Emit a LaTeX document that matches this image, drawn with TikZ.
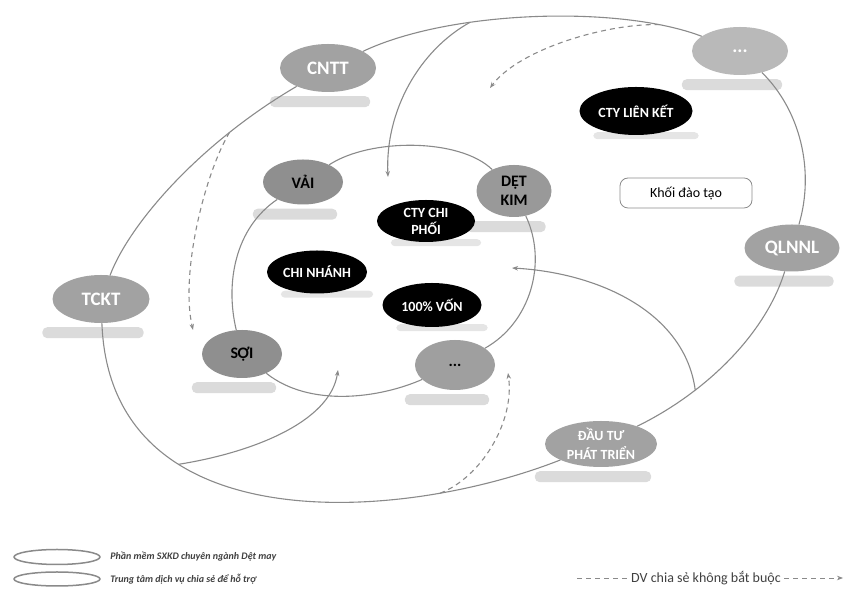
\documentclass[tikz,border=0pt]{standalone}
\usepackage{fontspec}
\setmainfont{Carlito}
\usetikzlibrary{shapes.geometric,positioning,arrows.meta,backgrounds,calc}
\definecolor{linegray}{HTML}{8A8A8A}
\definecolor{outergray}{HTML}{A2A2A2}
\definecolor{innergray}{HTML}{8F8F8F}
\begin{document}
\begin{tikzpicture}[x=1pt,y=1pt,>={Stealth[length=6pt,width=4.5pt]},
                    outer node/.style={ellipse,fill=outergray,text=white,minimum width=96pt,minimum height=48pt,inner sep=0pt,font=\bfseries\fontsize{19}{21}\selectfont},
                    inner node/.style={ellipse,fill=innergray,text=black,minimum width=80pt,minimum height=48pt,inner sep=0pt,align=center,font=\bfseries\fontsize{16}{19}\selectfont},
                    unit node/.style={ellipse,fill=black,text=white,minimum width=100pt,minimum height=43pt,inner sep=0pt,align=center,font=\bfseries\fontsize{14}{17}\selectfont},
                    link/.style={draw=linegray,line width=1.1pt},
                    opt link/.style={link,dashed,dash pattern=on 5pt off 4pt}]

          \useasboundingbox (0,0) rectangle (859,593);

          \node[outer node] (cntt) at (328,525) {CNTT};
          \node[outer node,fill=gray!55] (dotsA) at (740,542) {...};
          \node[outer node,minimum width=95pt,minimum height=47pt] (qlnnl) at (792,345) {QLNNL};
          \node[outer node,minimum width=97pt] (tckt) at (101,294) {TCKT};
          \node[outer node,minimum width=112pt,minimum height=46pt,align=center,font=\bfseries\fontsize{14}{19}\selectfont] (dautu) at (601,149) {ĐẦU TƯ\\PHÁT TRIỂN};

          \node[unit node,minimum width=113pt,minimum height=48pt] (lienket) at (636,482) {CTY LIÊN KẾT};
          \node[draw=linegray,line width=0.8pt,rounded corners=8pt,minimum width=132pt,minimum height=30pt,font=\fontsize{14}{15}\selectfont] (daotao) at (686,400) {Khối đào tạo};

          \node[inner node,minimum height=45pt] (vai) at (303,411) {VẢI};
          \node[inner node,minimum width=75pt,minimum height=52pt,fill=gray!80] (detkim) at (514,402) {DỆT\\KIM};
          \node[unit node,minimum width=98pt,minimum height=42pt] (chiphoi) at (426,372) {CTY CHI\\PHỐI};
          \node[unit node] (chinhanh) at (317,321) {CHI NHÁNH};
          \node[unit node,minimum width=99pt,minimum height=44pt] (von) at (432,288) {100\% VỐN};
          \node[inner node] (soi) at (242,239) {SỢI};
          \node[inner node,minimum height=50pt,fill=gray!75] (dotsB) at (455,228) {...};

          \begin{scope}[on background layer]
          \foreach \s in {cntt,dotsA,qlnnl,tckt,dautu,vai,detkim,soi,dotsB}
            \fill[gray!28,rounded corners=5pt] let \p1=(\s.west), \p2=(\s.east), \p3=(\s.south) in (\x1-10pt,\y3-4pt) rectangle (\x2-6pt,\y3-15pt);
          \foreach \s in {lienket,chiphoi,chinhanh,von}
            \fill[gray!20,rounded corners=4pt] let \p1=(\s.west), \p2=(\s.east), \p3=(\s.south) in (\x1+14pt,\y3+3pt) rectangle (\x2+6pt,\y3-4pt);
          \end{scope}

          \draw[link] (cntt) .. controls (450,583) and (620,588) .. (dotsA)
                coordinate[pos=0.33] (top1) coordinate[pos=0.85] (top2);
          \draw[link] (dotsA) .. controls (800,483) and (815,423) .. (qlnnl);
          \draw[link] (qlnnl) .. controls (765,258) and (705,200) .. (dautu) coordinate[pos=0.7] (mid6);
          \draw[link] (dautu) .. controls (400,70) and (110,50) .. (tckt)
                coordinate[pos=0.22] (bot5) coordinate[pos=0.69] (bot4);
          \draw[link] (tckt) .. controls (130,370) and (200,450) .. (cntt) coordinate[pos=0.75] (left3);

          \draw[link] (vai) .. controls (370,455) and (460,455) .. (detkim);
          \draw[link] (detkim) .. controls (548,330) and (530,270) .. (dotsB);
          \draw[link] (dotsB) .. controls (380,195) and (310,185) .. (soi);
          \draw[link] (soi) .. controls (225,310) and (235,365) .. (vai);

          \coordinate (end1) at (388,416);
          \coordinate (end2) at (490,505);
          \coordinate (end3) at (193,263);
          \coordinate (end4) at (338,223);
          \coordinate (end5) at (508,220);
          \coordinate (end6) at (512,325);

          \draw[link,->] (top1) .. controls (420,543) and (385,483) .. (end1);
          \draw[opt link,->] (top2) .. controls (610,570) and (520,545) .. (end2);
          \draw[opt link,->] (left3) .. controls (205,420) and (180,320) .. (end3);
          \draw[link,->] (bot4) .. controls (250,140) and (330,170) .. (end4);
          \draw[opt link,->] (bot5) .. controls (480,115) and (515,170) .. (end5);
          \draw[link,->] (mid6) .. controls (685,280) and (600,320) .. (end6);

          \node[ellipse,draw=linegray,line width=1.5pt,minimum width=86pt,minimum height=15pt] (leg1) at (57,36) {};
          \node[ellipse,draw=linegray,line width=1.5pt,minimum width=86pt,minimum height=14pt] (leg2) at (57,14) {};
          \node[right=6pt of leg1,text=darkgray,font=\bfseries\itshape\fontsize{10}{11}\selectfont] (leg1text) {Phần mềm SXKD chuyên ngành Dệt may};
          \node[right=6pt of leg2,text=darkgray,font=\bfseries\itshape\fontsize{10}{11}\selectfont] (leg2text) {Trung tâm dịch vụ chia sẻ để hỗ trợ};

          \node[text=darkgray,font=\fontsize{14}{15}\selectfont] (optkey) at (706,15) {DV chia sẻ không bắt buộc};
          \coordinate (optfrom) at (577,15);
          \coordinate (optto) at (843,15);
          \draw[opt link,line width=0.8pt] (optfrom) -- (optkey);
          \draw[opt link,line width=0.8pt,->] (optkey) -- (optto);

        \end{tikzpicture}
\end{document}
